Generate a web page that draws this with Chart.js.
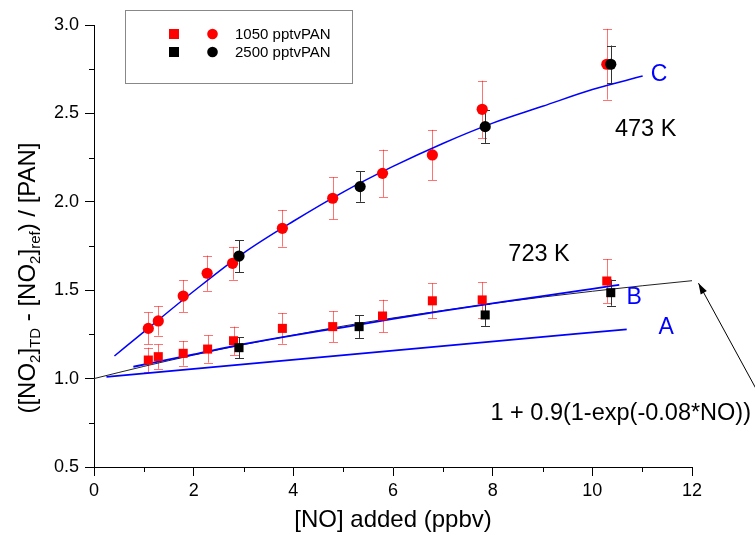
<!DOCTYPE html>
<html>
<head>
<meta charset="utf-8">
<script src="https://cdn.jsdelivr.net/npm/chart.js@4.4.1/dist/chart.umd.min.js"></script>
<style>
  body { margin: 0; background: #fff; }
  #wrap { width: 755px; height: 540px; }
</style>
</head>
<body>
<div id="wrap"><canvas id="chart" width="755" height="540"></canvas></div>
<script>
const FONT = 'Arial, "Liberation Sans", sans-serif';

// 473 K, circles
const circRedX = [1.09, 1.29, 1.79, 2.27, 2.78, 3.78, 4.79, 5.79, 6.79, 7.79, 10.29];
const circRedY = [1.284, 1.326, 1.467, 1.596, 1.652, 1.85, 2.02, 2.161, 2.265, 2.523, 2.778];
const circRedErr = [0.09, 0.083, 0.09, 0.10, 0.093, 0.104, 0.119, 0.134, 0.142, 0.162, 0.20];

const circBlackX = [2.91, 5.34, 7.85, 10.37];
const circBlackY = [1.693, 2.086, 2.425, 2.778];
const circBlackErr = [0.09, 0.086, 0.092, 0.106];

// 723 K, squares
const sqRedX = [1.09, 1.29, 1.79, 2.28, 2.80, 3.78, 4.79, 5.79, 6.79, 7.79, 10.29];
const sqRedY = [1.105, 1.124, 1.143, 1.167, 1.214, 1.284, 1.294, 1.354, 1.44, 1.445, 1.552];
const sqRedErr = [0.07, 0.069, 0.07, 0.077, 0.08, 0.087, 0.087, 0.092, 0.099, 0.10, 0.124];

const sqBlackX = [2.91, 5.32, 7.85, 10.37];
const sqBlackY = [1.175, 1.294, 1.36, 1.486];
const sqBlackErr = [0.06, 0.064, 0.062, 0.074];

// curves
const curveCX = [0.41, 1, 2, 3, 4, 5, 6, 7, 8, 9, 10, 11.01];
const curveCY = [1.128, 1.264, 1.494, 1.71, 1.89, 2.055, 2.20, 2.33, 2.445, 2.54, 2.635, 2.711];
const curveBX = [0.79, 2, 3, 4, 5, 6, 7, 8, 9, 10, 10.54];
const curveBY = [1.067, 1.137, 1.195, 1.245, 1.29, 1.338, 1.383, 1.425, 1.467, 1.508, 1.53];
const curveAX = [0.25, 10.69];
const curveAY = [1.01, 1.279];
const fitX = [0, 1, 2, 3, 4, 5, 6, 7, 8, 9, 10, 11, 12.08];
const fitY = [1.0, 1.069, 1.133, 1.192, 1.246, 1.297, 1.343, 1.385, 1.425, 1.461, 1.494, 1.525, 1.556];

const xTicks = [0, 2, 4, 6, 8, 10, 12];
const yTicks = [0.5, 1.0, 1.5, 2.0, 2.5, 3.0];

const toPts = (xs, ys) => xs.map((x, i) => ({x: x, y: ys[i]}));

const errSets = [
  {xs: sqRedX, ys: sqRedY, err: sqRedErr, color: 'rgba(255,0,0,0.55)'},
  {xs: circRedX, ys: circRedY, err: circRedErr, color: 'rgba(255,0,0,0.55)'},
  {xs: sqBlackX, ys: sqBlackY, err: sqBlackErr, color: '#333'},
  {xs: circBlackX, ys: circBlackY, err: circBlackErr, color: '#333'},
];

const errorBars = {
  id: 'errorBars',
  beforeDatasetsDraw(chart) {
    const ctx = chart.ctx, xs = chart.scales.x, ys = chart.scales.y;
    ctx.save();
    ctx.lineWidth = 1;
    errSets.forEach(s => {
      ctx.strokeStyle = s.color;
      s.xs.forEach((x, i) => {
        const px = Math.round(xs.getPixelForValue(x)) + 0.5;
        const top = ys.getPixelForValue(s.ys[i] + s.err[i]);
        const bot = ys.getPixelForValue(s.ys[i] - s.err[i]);
        ctx.beginPath();
        ctx.moveTo(px, top); ctx.lineTo(px, bot);
        ctx.moveTo(px - 4.5, Math.round(top) + 0.5); ctx.lineTo(px + 4.5, Math.round(top) + 0.5);
        ctx.moveTo(px - 4.5, Math.round(bot) + 0.5); ctx.lineTo(px + 4.5, Math.round(bot) + 0.5);
        ctx.stroke();
      });
    });
    ctx.restore();
  }
};

const extras = {
  id: 'extras',
  afterDraw(chart) {
    const ctx = chart.ctx, xs = chart.scales.x, ys = chart.scales.y;
    const area = chart.chartArea;
    ctx.save();
    // minor ticks
    ctx.strokeStyle = '#000';
    ctx.lineWidth = 1;
    ctx.beginPath();
    for (let v = 1; v < 12; v += 2) {
      const px = Math.round(xs.getPixelForValue(v)) + 0.5;
      ctx.moveTo(px, area.bottom); ctx.lineTo(px, area.bottom + 5);
    }
    for (let v = 0.75; v < 3; v += 0.5) {
      const py = Math.round(ys.getPixelForValue(v)) + 0.5;
      ctx.moveTo(area.left, py); ctx.lineTo(area.left - 5, py);
    }
    ctx.stroke();

    // y axis title with subscripts
    const big = '24px ' + FONT, small = '15px ' + FONT;
    const parts = [['([NO', big, 0], ['2', small, 8], [']', big, 0], ['TD', small, 8],
      [' - [NO', big, 0], ['2', small, 8], [']', big, 0], ['ref', small, 8], [') / [PAN]', big, 0]];
    let total = 0;
    parts.forEach(p => { ctx.font = p[1]; total += ctx.measureText(p[0]).width; });
    ctx.translate(28, 278);
    ctx.rotate(-Math.PI / 2);
    ctx.fillStyle = '#000';
    ctx.textBaseline = 'middle';
    ctx.textAlign = 'left';
    let cx = -total / 2;
    parts.forEach(p => {
      ctx.font = p[1];
      ctx.fillText(p[0], cx, p[2]);
      cx += ctx.measureText(p[0]).width;
    });
    ctx.setTransform(1, 0, 0, 1, 0, 0);

    // annotations
    const label = (txt, x, y, color, size) => {
      ctx.font = size + 'px ' + FONT;
      ctx.fillStyle = color;
      ctx.textAlign = 'center';
      ctx.textBaseline = 'middle';
      ctx.fillText(txt, xs.getPixelForValue(x), ys.getPixelForValue(y));
    };
    label('C', 11.34, 2.72, '#0000ff', 23);
    label('473 K', 11.07, 2.41, '#000', 23.5);
    label('723 K', 8.93, 1.70, '#000', 23.5);
    label('B', 10.84, 1.456, '#0000ff', 23);
    label('A', 11.48, 1.286, '#0000ff', 23);
    label('1 + 0.9(1-exp(-0.08*NO))', 10.57, 0.805, '#000', 23.5);

    // arrow
    const ax0 = xs.getPixelForValue(13.28), ay0 = ys.getPixelForValue(0.945);
    const ax1 = xs.getPixelForValue(12.13), ay1 = ys.getPixelForValue(1.54);
    ctx.strokeStyle = '#000';
    ctx.fillStyle = '#000';
    ctx.lineWidth = 1;
    ctx.beginPath();
    ctx.moveTo(ax0, ay0); ctx.lineTo(ax1, ay1);
    ctx.stroke();
    const ang = Math.atan2(ay1 - ay0, ax1 - ax0);
    ctx.beginPath();
    ctx.moveTo(ax1, ay1);
    ctx.lineTo(ax1 - 11 * Math.cos(ang) + 3.5 * Math.sin(ang), ay1 - 11 * Math.sin(ang) - 3.5 * Math.cos(ang));
    ctx.lineTo(ax1 - 11 * Math.cos(ang) - 3.5 * Math.sin(ang), ay1 - 11 * Math.sin(ang) + 3.5 * Math.cos(ang));
    ctx.closePath();
    ctx.fill();

    // legend box
    ctx.strokeStyle = '#888';
    ctx.strokeRect(125.5, 10.5, 227, 73);
    const rows = [['1050 pptvPAN', '#ff0000', 34], ['2500 pptvPAN', '#000000', 52]];
    rows.forEach(r => {
      ctx.fillStyle = r[1];
      ctx.fillRect(169, r[2] - 5, 10, 10);
      ctx.beginPath();
      ctx.arc(212.5, r[2], 5.3, 0, Math.PI * 2);
      ctx.fill();
      ctx.fillStyle = '#000';
      ctx.font = '15px ' + FONT;
      ctx.textAlign = 'left';
      ctx.textBaseline = 'middle';
      ctx.fillText(r[0], 235, r[2] + 1);
    });
    ctx.restore();
  }
};

const lineDs = (xs, ys, color, width, order) => ({
  data: toPts(xs, ys), showLine: true, pointRadius: 0, borderColor: color,
  borderWidth: width, cubicInterpolationMode: 'monotone', order: order
});

new Chart(document.getElementById('chart'), {
  type: 'scatter',
  data: {
    datasets: [
      lineDs(fitX, fitY, '#222', 1, 10),
      lineDs(curveAX, curveAY, '#0000ff', 1.8, 9),
      lineDs(curveBX, curveBY, '#0000ff', 1.8, 8),
      lineDs(curveCX, curveCY, '#0000ff', 1.5, 7),
      {label: '1050 pptvPAN', data: toPts(sqRedX, sqRedY), pointStyle: 'rect', pointRadius: 6.4,
        backgroundColor: '#ff0000', borderWidth: 0, order: 3},
      {label: '1050 pptvPAN', data: toPts(circRedX, circRedY), pointStyle: 'circle', pointRadius: 5.6,
        backgroundColor: '#ff0000', borderWidth: 0, order: 3},
      {label: '2500 pptvPAN', data: toPts(sqBlackX, sqBlackY), pointStyle: 'rect', pointRadius: 6.4,
        backgroundColor: '#000000', borderWidth: 0, order: 1},
      {label: '2500 pptvPAN', data: toPts(circBlackX, circBlackY), pointStyle: 'circle', pointRadius: 5.6,
        backgroundColor: '#000000', borderWidth: 0, order: 1},
    ]
  },
  options: {
    responsive: false,
    animation: false,
    devicePixelRatio: 1,
    layout: {padding: {top: 25, right: 63, left: 0, bottom: 0}},
    plugins: {legend: {display: false}, tooltip: {enabled: false}},
    scales: {
      x: {
        type: 'linear', min: 0, max: 12,
        afterBuildTicks: s => { s.ticks = xTicks.map(v => ({value: v})); },
        afterFit: s => { s.height = 73; },
        ticks: {color: '#000', font: {size: 18, family: FONT}, padding: 4, maxRotation: 0},
        grid: {drawOnChartArea: false, drawTicks: true, tickLength: 9, color: '#000'},
        border: {display: true, color: '#000', width: 1},
        title: {display: true, text: '[NO] added (ppbv)', color: '#000',
          font: {size: 24, family: FONT}, padding: {top: 0, bottom: 5}}
      },
      y: {
        type: 'linear', min: 0.5, max: 3.0,
        afterBuildTicks: s => { s.ticks = yTicks.map(v => ({value: v})); },
        afterFit: s => { s.width = 94; },
        ticks: {color: '#000', font: {size: 18, family: FONT}, padding: 6,
          callback: v => Number(v).toFixed(1)},
        grid: {drawOnChartArea: false, drawTicks: true, tickLength: 9, color: '#000'},
        border: {display: true, color: '#000', width: 1}
      }
    }
  },
  plugins: [errorBars, extras]
});
</script>
</body>
</html>
